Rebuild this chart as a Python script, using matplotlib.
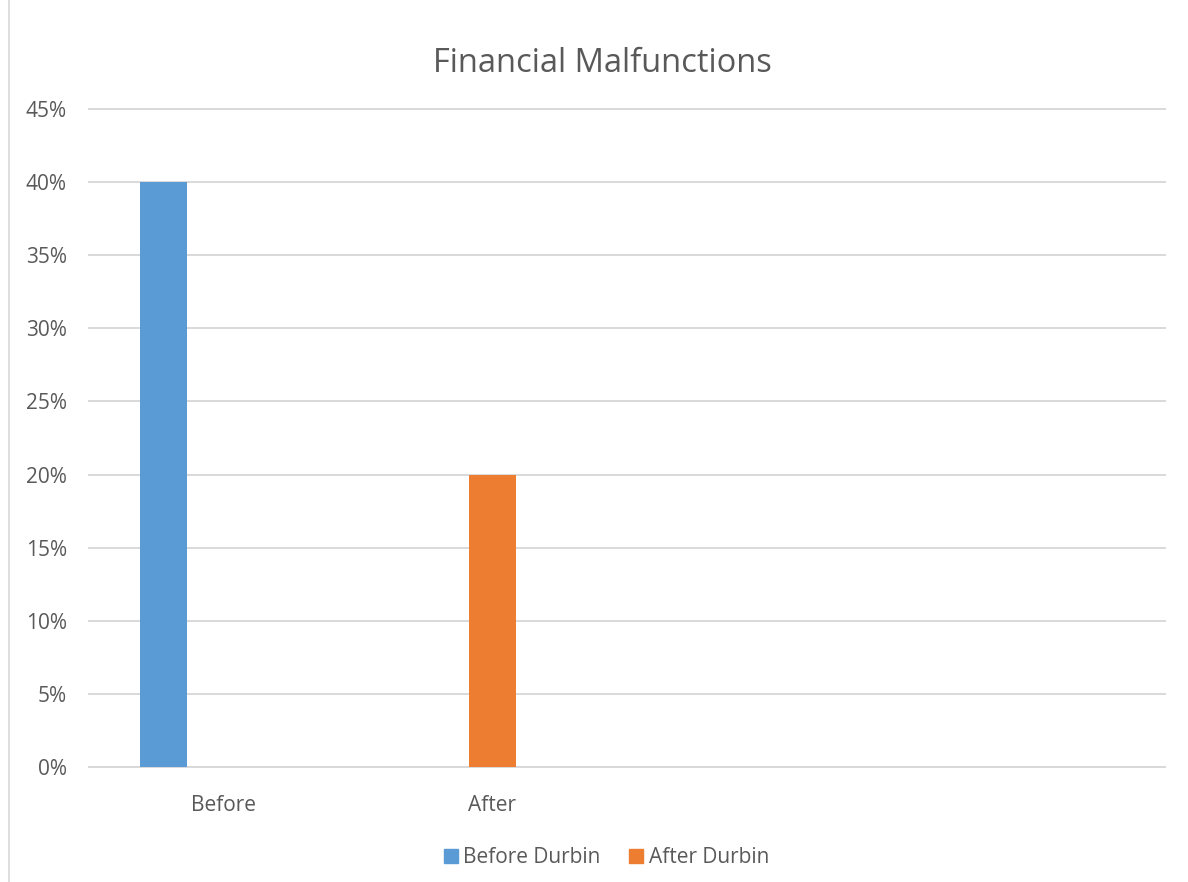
import numpy as np
import matplotlib.pyplot as plt
from matplotlib.lines import Line2D
from matplotlib.ticker import PercentFormatter

plt.rcParams['font.family'] = ['Open Sans', 'DejaVu Sans']

# Data
categories = ['Before', 'After', '', '']
before_durbin = [0.40, np.nan, np.nan, np.nan]
after_durbin = [np.nan, 0.20, np.nan, np.nan]
y_ticks = [0, 0.05, 0.10, 0.15, 0.20, 0.25, 0.30, 0.35, 0.40, 0.45]

blue = '#5B9BD5'
orange = '#ED7D31'
grid_c = '#D9D9D9'
text_c = '#595959'

fig = plt.figure(figsize=(11.88, 8.82), dpi=100)
ax = fig.add_axes([0.0749, 0.1304, 0.9057, 0.746])

x = np.arange(len(categories))
w = 0.175
ax.bar(x - 0.223, before_durbin, width=w, color=blue, label='Before Durbin', zorder=3)
ax.bar(x, after_durbin, width=w, color=orange, label='After Durbin', zorder=3)

ax.set_xlim(-0.5, len(categories) - 0.5)
ax.set_ylim(0, 0.45)
ax.set_yticks(y_ticks)
ax.yaxis.set_major_formatter(PercentFormatter(1.0, decimals=0))
ax.set_xticks(x)
ax.set_xticklabels(categories)
ax.tick_params(axis='both', length=0, labelsize=15, colors=text_c)
ax.tick_params(axis='x', pad=20)
ax.tick_params(axis='y', pad=16)
ax.grid(axis='y', color=grid_c, linewidth=1.4, zorder=0)
for gl in ax.get_ygridlines():
    gl.set_clip_on(False)
for s in ['top', 'right', 'left']:
    ax.spines[s].set_visible(False)
ax.spines['bottom'].set_color(grid_c)
ax.spines['bottom'].set_linewidth(1.4)

fig.text(0.507, 0.928, 'Financial Malfunctions', ha='center', va='center',
         fontsize=23.5, color=text_c)

handles = [Line2D([], [], marker='s', linestyle='none', markersize=10,
                  markerfacecolor=c, markeredgecolor=c) for c in (blue, orange)]
fig.legend(handles, ['Before Durbin', 'After Durbin'], loc='center',
           bbox_to_anchor=(0.509, 0.028), ncol=2, frameon=False, fontsize=15,
           labelcolor=text_c, handletextpad=0.1, columnspacing=1.2, handlelength=1)

# chart border edge on the left
fig.add_artist(Line2D([0.0075, 0.0075], [0.0, 1.0], color=grid_c, linewidth=1.2))

fig.savefig('out.png', dpi=100)
